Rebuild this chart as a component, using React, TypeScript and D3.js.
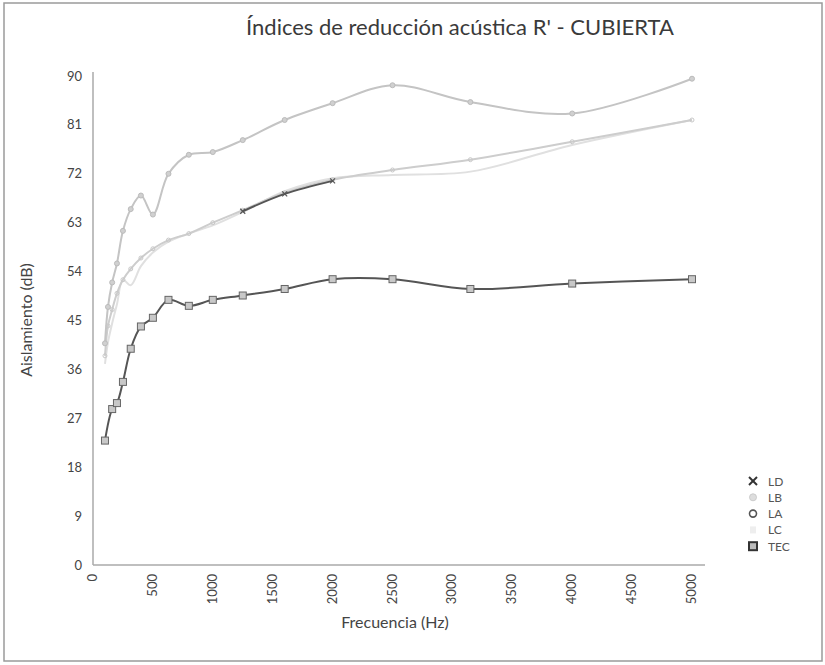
import React from "react";
import * as d3 from "d3";

// third-octave bands (Hz)
const freqs = [100, 125, 160, 200, 250, 315, 400, 500, 630, 800, 1000, 1250, 1600, 2000, 2500, 3150, 4000, 5000];
const lbValues = [40.8, 47.5, 52, 55.5, 61.5, 65.5, 68, 64.5, 72, 75.5, 76, 78.2, 81.9, 85, 88.3, 85.2, 83.1, 89.5];
const laValues = [38.5, 44, 47, 50, 52.5, 54.5, 56.5, 58.2, 59.8, 61, 63, 65.3, 68.5, 70.9, 72.7, 74.6, 77.9, 81.9];
const lcValues = [37, 41, 44.5, 48, 52.5, 51.5, 55, 57.5, 59.5, 61, 62.5, 65, 68.8, 71.2, 71.8, 72.4, 77.3, 81.9];
const ldFreqs = [1250, 1600, 2000];
const ldValues = [65.1, 68.3, 70.7];
const tecFreqs = [100, 160, 200, 250, 315, 400, 500, 630, 800, 1000, 1250, 1600, 2000, 2500, 3150, 4000, 5000];
const tecValues = [22.9, 28.7, 29.8, 33.7, 39.8, 43.9, 45.5, 48.8, 47.7, 48.8, 49.6, 50.8, 52.6, 52.6, 50.8, 51.8, 52.6];

const yTicks = [0, 9, 18, 27, 36, 45, 54, 63, 72, 81, 90];
const xTicks = [0, 500, 1000, 1500, 2000, 2500, 3000, 3500, 4000, 4500, 5000];
const legendNames = ["LD", "LB", "LA", "LC", "TEC"];

const W = 825;
const H = 665;
const font = "Lato, 'Open Sans', sans-serif";

const App = () => {
    const x = d3.scaleLinear().domain([0, 5000]).range([93, 692]);
    const y = d3.scaleLinear().domain([0, 90]).range([565, 76]);

    const line = d3.line<[number, number]>()
        .x(d => x(d[0]))
        .y(d => y(d[1]))
        .curve(d3.curveCatmullRom.alpha(0.5));

    const zip = (fs: number[], vs: number[]) => fs.map((f, i) => [f, vs[i]] as [number, number]);

    const lb = zip(freqs, lbValues);
    const la = zip(freqs, laValues);
    const lc = zip(freqs, lcValues);
    const ld = zip(ldFreqs, ldValues);
    const tec = zip(tecFreqs, tecValues);

    return (
        <div style={{position: "absolute", left: 0, top: 0}}>
            <svg width={W} height={H} style={{display: "block", background: "#fff"}}>
                <rect x={4} y={3} width={818} height={658} fill="none" stroke="#9a9a9a" strokeWidth={1.5}/>

                <text x={460} y={35} textAnchor="middle" fontFamily={font} fontSize={22} fill="#3a3a3a">
                    Índices de reducción acústica R' - CUBIERTA
                </text>

                {/* axes */}
                <line x1={93} x2={93} y1={72} y2={565} stroke="#aaa" strokeWidth={1.5}/>
                <line x1={93} x2={705} y1={565} y2={565} stroke="#aaa" strokeWidth={1.5}/>

                {yTicks.map(t => (
                    <text key={t} x={82} y={y(t) + 4.5} textAnchor="end" fontFamily={font} fontSize={13} fill="#444">{t}</text>
                ))}
                {xTicks.map(t => (
                    <text key={t} transform={`translate(${x(t) + 4},${574}) rotate(-90)`} textAnchor="end"
                          fontFamily={font} fontSize={13} fill="#444">{t}</text>
                ))}

                <text transform={`translate(32,320) rotate(-90)`} textAnchor="middle" fontFamily={font} fontSize={16} fill="#444">
                    Aislamiento (dB)
                </text>
                <text x={395} y={628} textAnchor="middle" fontFamily={font} fontSize={16} fill="#444">
                    Frecuencia (Hz)
                </text>

                {/* series */}
                <path d={line(lc) ?? ""} fill="none" stroke="#e0e0e0" strokeWidth={2}/>
                <path d={line(la) ?? ""} fill="none" stroke="#cdcdcd" strokeWidth={2}/>
                <path d={line(lb) ?? ""} fill="none" stroke="#c4c4c4" strokeWidth={2}/>
                {lb.map((d, i) => (
                    <circle key={i} cx={x(d[0])} cy={y(d[1])} r={2.5} fill="#d0d0d0" stroke="#bbb"/>
                ))}
                {la.map((d, i) => (
                    <circle key={i} cx={x(d[0])} cy={y(d[1])} r={2} fill="none" stroke="#c8c8c8"/>
                ))}
                <path d={line(ld) ?? ""} fill="none" stroke="#555" strokeWidth={2}/>
                {ld.map((d, i) => (
                    <g key={i} stroke="#555" strokeWidth={1.2}>
                        <line x1={x(d[0]) - 2.5} x2={x(d[0]) + 2.5} y1={y(d[1]) - 2.5} y2={y(d[1]) + 2.5}/>
                        <line x1={x(d[0]) - 2.5} x2={x(d[0]) + 2.5} y1={y(d[1]) + 2.5} y2={y(d[1]) - 2.5}/>
                    </g>
                ))}
                <path d={line(tec) ?? ""} fill="none" stroke="#555" strokeWidth={2}/>
                {tec.map((d, i) => (
                    <rect key={i} x={x(d[0]) - 3.5} y={y(d[1]) - 3.5} width={7} height={7}
                          fill="#c8c8c8" stroke="#666" strokeWidth={1}/>
                ))}

                {/* legend */}
                {legendNames.map((name, i) => {
                    const ly = 481 + i * 16.3;
                    return (
                        <g key={name}>
                            {name === "LD" && (
                                <g stroke="#333" strokeWidth={2}>
                                    <line x1={749} x2={757} y1={ly - 4} y2={ly + 4}/>
                                    <line x1={749} x2={757} y1={ly + 4} y2={ly - 4}/>
                                </g>
                            )}
                            {name === "LB" && <circle cx={753} cy={ly} r={3.5} fill="#ddd" stroke="#ccc"/>}
                            {name === "LA" && <circle cx={753} cy={ly} r={3.5} fill="none" stroke="#555" strokeWidth={1.6}/>}
                            {name === "LC" && <rect x={750} y={ly - 3.5} width={6} height={7} fill="#eee"/>}
                            {name === "TEC" && <rect x={749} y={ly - 4} width={8} height={8} fill="#bbb" stroke="#333" strokeWidth={2}/>}
                            <text x={768} y={ly + 4.5} fontFamily={font} fontSize={12} fill="#555">{name}</text>
                        </g>
                    );
                })}
            </svg>
        </div>
    );
};

export default App;
